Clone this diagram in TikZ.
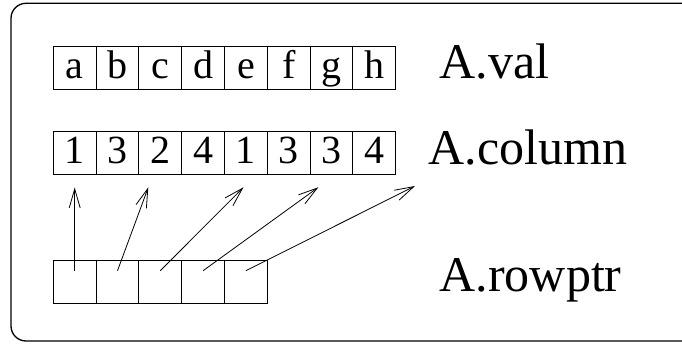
\documentclass[tikz,border=0pt]{standalone}
\usepackage{fontspec}
\setmainfont{Liberation Serif}
\usetikzlibrary{arrows.meta}
\begin{document}
\begin{tikzpicture}[x=1pt,y=-1pt,
  cell/.style={draw, line width=0.9pt, minimum width=42.8pt, minimum height=42.6pt,
    inner sep=0pt, text height=31pt, text depth=10pt, font=\fontsize{40}{42}\selectfont},
  lab/.style={anchor=base west, inner sep=0pt, font=\fontsize{50}{55}\selectfont},
  arr/.style={line width=0.8pt, -{Straight Barb[length=19pt,width=11pt,line width=0.8pt]}},
  frame/.style={line width=1.3pt, rounded corners=15pt}]
\useasboundingbox (0,0) rectangle (682,344);
\draw[frame] (740,3.3) -- (11,3.3) -- (11,341) -- (740,341);
% A.val
\foreach \t [count=\i] in {a,b,c,d,e,f,g,h}
  \node[cell] (v\i) at ({53.3+42.8*(\i-0.5)},67.9) {\t};
% A.column
\foreach \t [count=\i] in {1,3,2,4,1,3,3,4}
  \node[cell] (c\i) at ({53.3+42.8*(\i-0.5)},153) {\t};
% A.rowptr
\foreach \i in {1,...,5}
  \node[cell] (r\i) at ({53.3+42.8*(\i-0.5)},281.7) {};
% labels
\node[lab] (lval) at (439.5,78.3) {A.val};
\node[lab] (lcol) at (428.5,164.3) {A.column};
\node[lab] (lrow) at (439.5,291.7) {A.rowptr};
% arrow tips
\coordinate (t1) at (74.7,187.5);
\coordinate (t2) at (148.3,187.3);
\coordinate (t3) at (243.5,187.3);
\coordinate (t4) at (318.3,187.3);
\coordinate (t5) at (415,186);
\foreach \i in {1,...,5}
  \draw[arr] ([yshift=11pt]r\i.center) -- (t\i);
\end{tikzpicture}
\end{document}
